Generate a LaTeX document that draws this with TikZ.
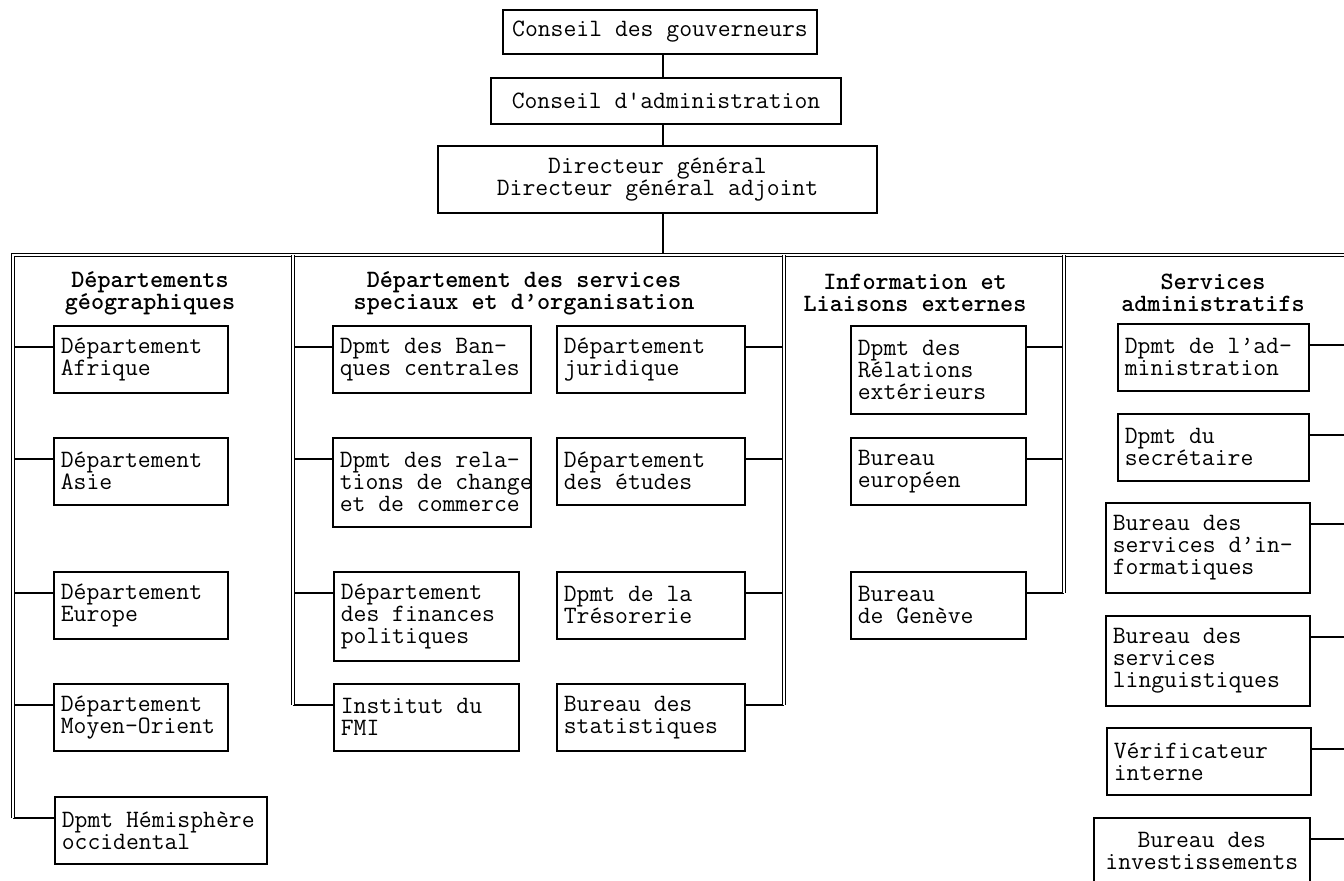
\documentclass[tikz,border=0pt]{standalone}
\usepackage{fontspec}
\usepackage{tikz}

\begin{document}
\begin{tikzpicture}[x=0.5pt,y=-0.5pt,font=\ttfamily\fontsize{12.48}{11}\selectfont,
        execute at begin node={\spaceskip=\fontdimen2\font\relax}]
        \tikzstyle{unit}=[draw,line width=0.8pt,anchor=north west,align=left,inner xsep=3.5pt,inner ysep=0pt,minimum height=33.5pt]
        \tikzstyle{top unit}=[draw,line width=0.8pt,anchor=north,align=center,inner sep=0pt]
        \tikzstyle{head}=[font=\ttfamily\fontsize{12.48}{11}\selectfont\bfseries,align=center]
        \tikzstyle{link}=[line width=0.8pt]
        \tikzstyle{rail}=[line width=0.6pt,double,double distance=1.1pt]
        \useasboundingbox (0,0) rectangle (1344,881);

        \node[top unit,minimum width=157pt,minimum height=22pt] (gouv) at (660,9) {Conseil des gouverneurs};
        \node[top unit,minimum width=175pt,minimum height=23pt] (cadm) at (666,77) {Conseil d'administration};
        \node[top unit,minimum width=219.5pt,minimum height=33.5pt] (dg) at (657.5,145) {Directeur général\\Directeur général adjoint};
        \coordinate (spine) at (663,255);

        \coordinate (r1) at (13,255);
        \coordinate (r2) at (293,255);
        \coordinate (r3) at (784,255);
        \coordinate (r4) at (1064,255);
        \coordinate (r5) at (1344,255);

        \node[head] (geo) at (150,293) {Départements\\géographiques};
        \node[head] (spec) at (524,293) {Département des services\\speciaux et d’organisation};
        \node[head] (info) at (915,293) {Information et\\Liaisons externes};
        \node[head] (sadm) at (1213,293) {Services\\administratifs};

        % departements geographiques
        \node[unit,text width=80pt] (afr) at (53,325) {Département\\Afrique};
        \node[unit,text width=80pt] (asie) at (53,437) {Département\\Asie};
        \node[unit,text width=80pt] (eur) at (53,571) {Département\\Europe};
        \node[unit,text width=80pt] (moy) at (53,683) {Département\\Moyen-Orient};
        \node[unit,text width=99pt] (hemi) at (54,796) {Dpmt Hémisphère\\occidental};

        % services speciaux
        \node[unit,text width=92pt] (banq) at (332,325) {Dpmt des Ban-\\ques centrales};
        \node[unit,text width=92pt,minimum height=44.5pt] (chg) at (332,437) {Dpmt des rela-\\\mbox{tions de change}\\et de commerce};
        \node[unit,text width=85.5pt,minimum height=44.5pt] (fin) at (333,571) {Département\\des finances\\politiques};
        \node[unit,text width=85.5pt] (fmi) at (333,683) {Institut du\\FMI};
        \node[unit,text width=87pt] (jur) at (556,325) {Département\\juridique};
        \node[unit,text width=87pt] (etu) at (556,437) {Département\\des études};
        \node[unit,text width=87pt] (treso) at (556,571) {Dpmt de la\\Trésorerie};
        \node[unit,text width=87pt] (stat) at (556,683) {Bureau des\\statistiques};

        % information
        \node[unit,text width=80.5pt,minimum height=44pt] (relext) at (850,325) {Dpmt des\\Rélations\\extérieurs};
        \node[unit,text width=80.5pt] (euro) at (850,437) {Bureau\\européen};
        \node[unit,text width=80.5pt] (gen) at (850,571) {Bureau\\de Genève};

        % services administratifs
        \node[unit,text width=88.5pt] (admi) at (1117,323) {Dpmt de l’ad-\\ministration};
        \node[unit,text width=88.5pt] (secr) at (1117,413) {Dpmt du\\secrétaire};
        \node[unit,text width=95pt,minimum height=45pt] (infor) at (1105,502) {Bureau des\\services d’in-\\formatiques};
        \node[unit,text width=95pt,minimum height=45pt] (ling) at (1105,615) {Bureau des\\services\\linguistiques};
        \node[unit,text width=95pt] (verif) at (1106,727) {Vérificateur\\interne};
        \node[unit,text width=101pt,align=center] (invest) at (1093,817) {Bureau des\\investissements};

        \draw[link] (gouv.south -| spine) -- (cadm.north -| spine);
        \draw[link] (cadm.south -| spine) -- (dg.north -| spine);
        \draw[link] (dg.south -| spine) -- (spine);

        \draw[link] ([yshift=-11pt]afr.north west) -- ([yshift=-11pt]afr.north west -| r1);
        \draw[link] ([yshift=-11pt]asie.north west) -- ([yshift=-11pt]asie.north west -| r1);
        \draw[link] ([yshift=-11pt]eur.north west) -- ([yshift=-11pt]eur.north west -| r1);
        \draw[link] ([yshift=-11pt]moy.north west) -- ([yshift=-11pt]moy.north west -| r1);
        \draw[link] ([yshift=-11pt]hemi.north west) -- ([yshift=-11pt]hemi.north west -| r1);

        \draw[link] ([yshift=-11pt]banq.north west) -- ([yshift=-11pt]banq.north west -| r2);
        \draw[link] ([yshift=-11pt]chg.north west) -- ([yshift=-11pt]chg.north west -| r2);
        \draw[link] ([yshift=-11pt]fin.north west) -- ([yshift=-11pt]fin.north west -| r2);
        \draw[link] ([yshift=-11pt]fmi.north west) -- ([yshift=-11pt]fmi.north west -| r2);
        \draw[link] ([yshift=-11pt]jur.north east) -- ([yshift=-11pt]jur.north east -| r3);
        \draw[link] ([yshift=-11pt]etu.north east) -- ([yshift=-11pt]etu.north east -| r3);
        \draw[link] ([yshift=-11pt]treso.north east) -- ([yshift=-11pt]treso.north east -| r3);
        \draw[link] ([yshift=-11pt]stat.north east) -- ([yshift=-11pt]stat.north east -| r3);

        \draw[link] ([yshift=-11pt]relext.north east) -- ([yshift=-11pt]relext.north east -| r4);
        \draw[link] ([yshift=-11pt]euro.north east) -- ([yshift=-11pt]euro.north east -| r4);
        \draw[link] ([yshift=-11pt]gen.north east) -- ([yshift=-11pt]gen.north east -| r4);

        \draw[link] ([yshift=-11pt]admi.north east) -- ([yshift=-11pt]admi.north east -| r5);
        \draw[link] ([yshift=-11pt]secr.north east) -- ([yshift=-11pt]secr.north east -| r5);
        \draw[link] ([yshift=-11pt]infor.north east) -- ([yshift=-11pt]infor.north east -| r5);
        \draw[link] ([yshift=-11pt]ling.north east) -- ([yshift=-11pt]ling.north east -| r5);
        \draw[link] ([yshift=-11pt]verif.north east) -- ([yshift=-11pt]verif.north east -| r5);
        \draw[link] ([yshift=-11pt]invest.north east) -- ([yshift=-11pt]invest.north east -| r5);

        % double rails
        \draw[rail] ([yshift=-11pt]hemi.north west -| r1) -- (r1) -- (r5);
        \draw[rail] (r2) -- ([yshift=-11pt]fmi.north west -| r2);
        \draw[rail] (r3) -- ([yshift=-11pt]stat.north east -| r3);
        \draw[rail] (r4) -- ([yshift=-11pt]gen.north east -| r4);
    \end{tikzpicture}
\end{document}
